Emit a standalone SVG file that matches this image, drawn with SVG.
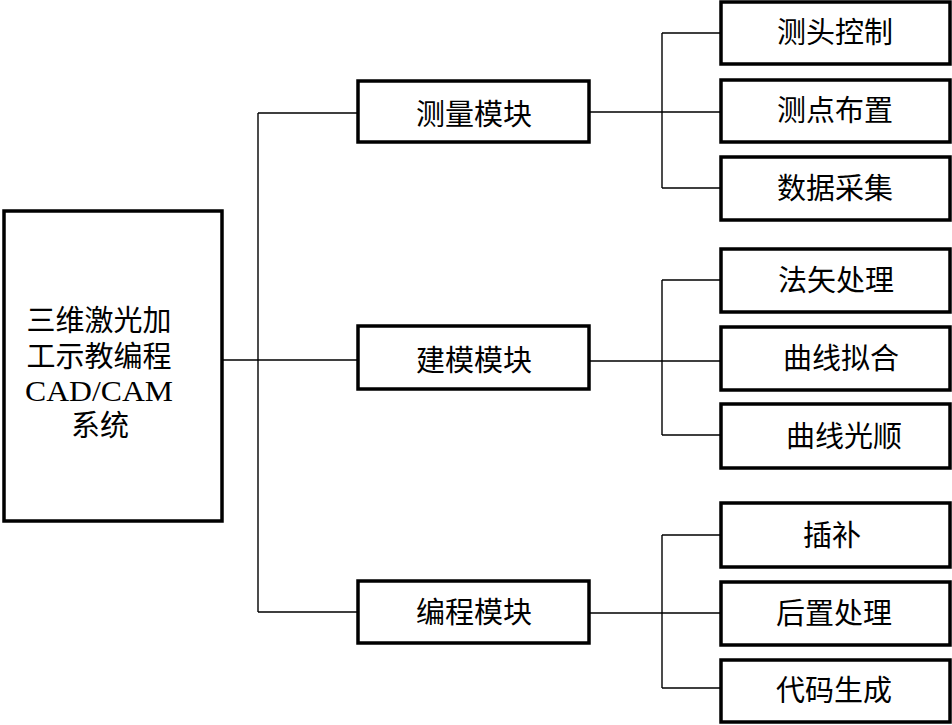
<svg xmlns="http://www.w3.org/2000/svg" width="952" height="725" viewBox="0 0 952 725">
<style>
.box{fill:#fff;stroke:#000;stroke-width:3.5}
.ln{fill:none;stroke:#000;stroke-width:1.4}
text{font-family:"Liberation Serif","Noto Sans CJK SC",serif;font-size:29px;fill:#000;text-anchor:middle}
</style>
<rect width="952" height="725" fill="#fff"/>
<g id="connectors">
<path class="ln" d="M222,360H258M258,113V612M258,113H358M258,360H358M258,612H358"/>
<path class="ln" d="M589,112H721M662,33V188M662,33H721M662,188H721"/>
<path class="ln" d="M589,361H721M662,280V435M662,280H721M662,435H721"/>
<path class="ln" d="M589,613H721M662,535V688M662,535H721M662,688H721"/>
</g>
<g id="root">
<rect class="box" x="4" y="211" width="218" height="310"/>
<text x="99" y="331">三维激光加</text>
<text x="99" y="367">工示教编程</text>
<text x="99" y="401" textLength="148" lengthAdjust="spacingAndGlyphs">CAD/CAM</text>
<text x="100" y="436">系统</text>
</g>
<g id="m1"><rect class="box" x="358" y="81" width="231" height="61"/><text x="474" y="125">测量模块</text></g>
<g id="m2"><rect class="box" x="358" y="326" width="231" height="63"/><text x="474" y="371">建模模块</text></g>
<g id="m3"><rect class="box" x="358" y="581" width="231" height="62"/><text x="474" y="623">编程模块</text></g>
<g id="c1"><rect class="box" x="721" y="2" width="229" height="62"/><text x="835" y="43">测头控制</text></g>
<g id="c2"><rect class="box" x="721" y="80" width="229" height="62"/><text x="835" y="121">测点布置</text></g>
<g id="c3"><rect class="box" x="721" y="157" width="229" height="63"/><text x="835" y="199">数据采集</text></g>
<g id="c4"><rect class="box" x="721" y="249" width="229" height="63"/><text x="836" y="291">法矢处理</text></g>
<g id="c5"><rect class="box" x="721" y="327" width="229" height="63"/><text x="841" y="369">曲线拟合</text></g>
<g id="c6"><rect class="box" x="721" y="404" width="229" height="64"/><text x="844" y="447">曲线光顺</text></g>
<g id="c7"><rect class="box" x="721" y="503" width="229" height="64"/><text x="832" y="546">插补</text></g>
<g id="c8"><rect class="box" x="721" y="582" width="229" height="63"/><text x="834" y="624">后置处理</text></g>
<g id="c9"><rect class="box" x="721" y="660" width="229" height="62"/><text x="834" y="701">代码生成</text></g>
</svg>
